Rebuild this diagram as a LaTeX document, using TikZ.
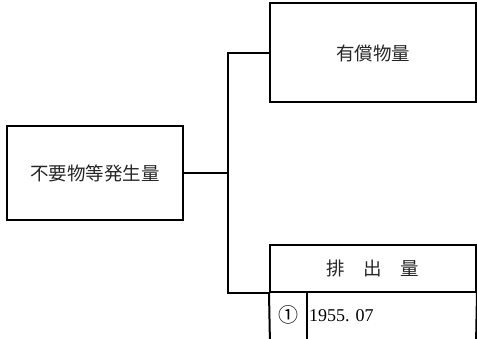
\documentclass[tikz,border=0pt]{standalone}
\usepackage{fontspec}
\newfontfamily\cjk{Noto Sans CJK JP}
\newfontfamily\dig{Liberation Serif}
\begin{document}
\begin{tikzpicture}[x=1pt,y=-1pt,
  box/.style={draw,line width=2pt,rectangle,inner sep=0pt,font=\cjk\fontsize{18.5}{20}\selectfont,text=black!85},
  conn/.style={line width=2pt},
  lbl/.style={inner sep=0pt,text=black}]
\useasboundingbox (0,0) rectangle (477,339);
\node[box,minimum width=176pt,minimum height=94pt] (gen) at (95,173) {不要物等発生量};
\node[box,minimum width=206pt,minimum height=99pt] (paid) at (373,53) {有償物量};
\node[box,minimum width=206pt,minimum height=47pt] (hdr) at (373,268.5) {排　出　量};
\coordinate (bl) at (270,345);
\coordinate (br) at (476,345);
\coordinate (ml) at (307,292);
\coordinate (mb) at (307,345);
\draw[conn] (hdr.south west) -- (bl);
\draw[conn] (hdr.south east) -- (br);
\draw[conn] (ml) -- (mb);
\draw[conn] (gen.east) -- ++(44,0) |- (paid.west);
\draw[conn] (gen.east) -- ++(44,0) |- (hdr.south west);
\node[lbl,font=\cjk\fontsize{20}{22}\selectfont] (n1) at (288,315) {①};
\node[lbl,anchor=west,font=\dig\fontsize{18}{20}\selectfont] (d1) at (309,316) {1955.\,\,07};
\end{tikzpicture}
\end{document}
